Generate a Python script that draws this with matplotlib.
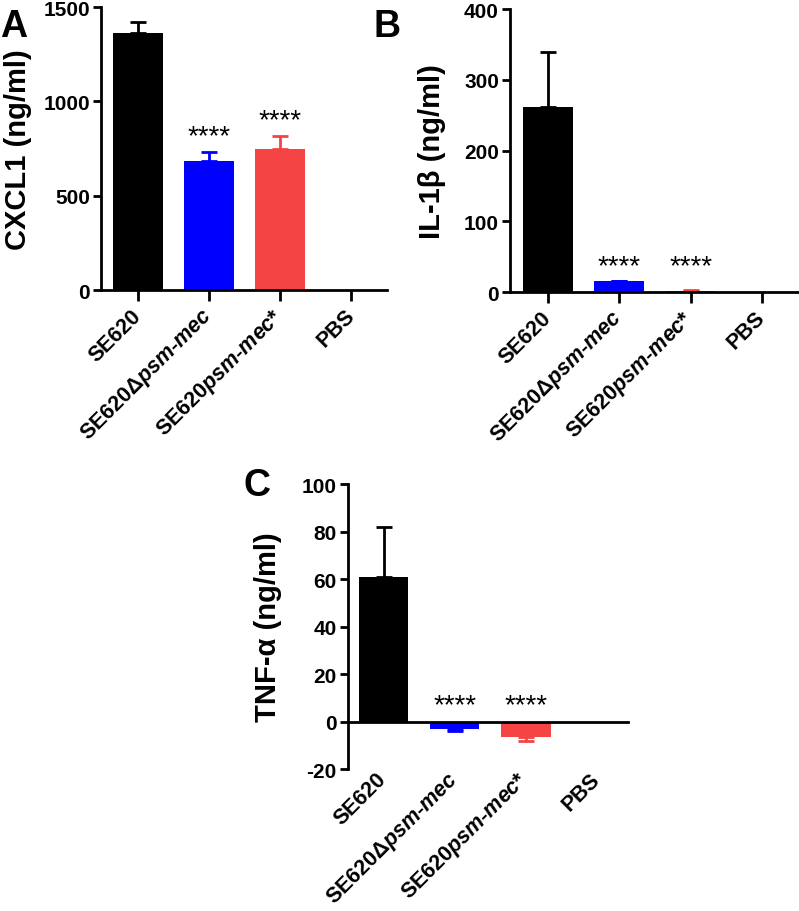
import matplotlib
matplotlib.use("Agg")
import matplotlib.pyplot as plt

plt.rcParams['font.family'] = ['Liberation Sans', 'DejaVu Sans']
plt.rcParams['font.weight'] = 'bold'
plt.rcParams['mathtext.fontset'] = 'custom'
plt.rcParams['mathtext.rm'] = 'Liberation Sans:bold'
plt.rcParams['mathtext.it'] = 'Liberation Sans:bold:italic'

# data
groups = ["SE620", r"SE620$\Delta$$\mathit{psm}$-$\mathit{mec}$",
          r"SE620$\mathit{psm}$-$\mathit{mec}$*", "PBS"]
colors = ["#000000", "#0000FF", "#F44444", "#000000"]

cxcl1 = [1362, 684, 747, 0]
cxcl1_err = [60, 47, 71, 0]

il1b = [262, 15, 2, 0]
il1b_err = [77, 1, 0.5, 0]

tnfa = [61, -3, -6.5, 0]
tnfa_err = [21, 1.2, 1.5, 0]

stars = ["", "****", "****", ""]
star_y_a = [0, 815, 900, 0]
star_y_b = [0, 37, 37, 0]
star_y_c = [0, 7, 7, 0]

fig = plt.figure(figsize=(7.99, 9.12), dpi=100)


def panel(rect, vals, errs, ylim, yticks, ylabel, star_y, xlim,
          labelpad=8, zero_axis=False):
    ax = fig.add_axes(rect)
    for s in ['top', 'right']:
        ax.spines[s].set_visible(False)
    ax.spines['left'].set_linewidth(2)
    ax.spines['bottom'].set_linewidth(2)
    ax.tick_params(axis='y', width=2, length=6, pad=2, labelsize=15)
    ax.tick_params(axis='x', width=2, length=0 if zero_axis else 8,
                   pad=5 if zero_axis else 8, labelsize=15.5)

    x = range(len(vals))
    ax.bar(x, vals, width=0.7, color=colors, zorder=2)
    for i, (v, e) in enumerate(zip(vals, errs)):
        if e <= 0 or v == 0:
            continue
        sgn = 1 if v >= 0 else -1
        ax.errorbar(i, v, yerr=[[0], [e]] if sgn > 0 else [[e], [0]],
                    color=colors[i], capsize=6, capthick=2, elinewidth=2, zorder=1)
        if stars[i]:
            ax.text(i, star_y[i], stars[i], ha='center', va='center',
                    fontsize=20, fontweight='normal')
    ax.set_xlim(*xlim)
    ax.set_ylim(*ylim)
    ax.set_yticks(yticks)
    ax.set_yticklabels([str(t) for t in yticks], fontsize=15, fontweight='bold')
    ax.set_xticks(list(x))
    ax.set_xticklabels(groups, rotation=45, ha='right', va='center',
                       rotation_mode='anchor', fontsize=15.5, fontweight='bold')
    ax.set_ylabel(ylabel, fontsize=21, fontweight='bold', labelpad=labelpad)
    if zero_axis:
        # x axis line drawn at zero, labels stay under the bottom of the axes
        ax.spines['bottom'].set_visible(False)
        ax.axhline(0, color='black', lw=2, zorder=3, clip_on=False)
    return ax


axA = panel([0.1264, 0.6809, 0.358, 0.3103], cxcl1, cxcl1_err, (0, 1500),
            [0, 500, 1000, 1500], "CXCL1 (ng/ml)", star_y_a, (-0.52, 3.5))
axB = panel([0.6383, 0.6787, 0.3604, 0.3103], il1b, il1b_err, (0, 400),
            [0, 100, 200, 300, 400], "IL-1β (ng/ml)", star_y_b, (-0.53, 3.5),
            labelpad=13)
axC = panel([0.4355, 0.1557, 0.3505, 0.3125], tnfa, tnfa_err, (-20, 100),
            [-20, 0, 20, 40, 60, 80, 100], "TNF-α (ng/ml)", star_y_c, (-0.5, 3.44),
            labelpad=14, zero_axis=True)

fig.text(0.0, 0.99, "A", fontsize=27, fontweight='bold', va='top', ha='left')
fig.text(0.468, 0.99, "B", fontsize=27, fontweight='bold', va='top', ha='left')
fig.text(0.305, 0.487, "C", fontsize=27, fontweight='bold', va='top', ha='left')

fig.savefig("out.png", dpi=100)
